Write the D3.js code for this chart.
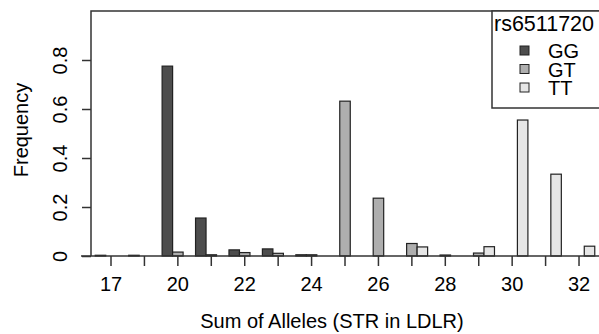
<!DOCTYPE html>
<html>
<head>
<meta charset="utf-8">
<script src="https://cdn.jsdelivr.net/npm/d3@7"></script>
<style>
  body { margin: 0; background: #fff; }
  svg { display: block; font-family: "Liberation Sans", Arial, sans-serif; }
</style>
</head>
<body>
<svg width="599" height="334"></svg>
<script>
// categories (sum of alleles) and genotype series
var categories = ["17", "19", "20", "21", "22", "23", "24", "25", "26", "27", "28", "29", "30", "31", "32"];
var shownLabels = ["17", "20", "22", "24", "26", "28", "30", "32"];
var genotypes = ["GG", "GT", "TT"];
var colors = ["#4D4D4D", "#AEAEAE", "#E6E6E6"];

// frequency per genotype, one value per category
var GG = [0.003, 0.003, 0.775, 0.155, 0.025, 0.029, 0.005, 0, 0, 0, 0, 0, 0, 0, 0];
var GT = [0, 0, 0.016, 0.005, 0.014, 0.011, 0.005, 0.632, 0.236, 0.051, 0.004, 0.012, 0, 0, 0];
var TT = [0, 0, 0, 0, 0, 0, 0, 0, 0, 0.037, 0, 0.038, 0.555, 0.334, 0.04];
var yTicks = [0, 0.2, 0.4, 0.6, 0.8];

var series = [GG, GT, TT];

var svg = d3.select("svg");

var plotLeft = 91, plotTop = 11, plotBottom = 256;

// group scale: step ~33.4px, centers starting at x=111
var step = 33.43;
var x0 = d3.scaleBand()
    .domain(categories)
    .range([111 - step / 2, 111 - step / 2 + step * categories.length])
    .paddingInner(0.058)
    .paddingOuter(0.029);

var x1 = d3.scaleBand()
    .domain(genotypes)
    .range([0, x0.bandwidth()]);

var y = d3.scaleLinear()
    .domain([0, 1])
    .range([plotBottom, plotTop]);

// bars
var rows = [];
categories.forEach(function(c, i) {
    genotypes.forEach(function(g, j) {
        rows.push({ cat: c, geno: g, value: series[j][i], color: colors[j] });
    });
});

svg.append("g")
    .selectAll("rect")
    .data(rows)
    .enter()
    .append("rect")
    .attr("x", function(d) { return x0(d.cat) + x1(d.geno); })
    .attr("y", function(d) { return y(d.value); })
    .attr("width", x1.bandwidth())
    .attr("height", function(d) { return y(0) - y(d.value); })
    .attr("fill", function(d) { return d.color; })
    .attr("stroke", "#222")
    .attr("stroke-width", 1.2);

// frame
svg.append("path")
    .attr("d", "M" + plotLeft + "," + plotBottom + "V" + plotTop + "H" + 605)
    .attr("fill", "none")
    .attr("stroke", "#333")
    .attr("stroke-width", 1.5);

svg.append("line")
    .attr("x1", 81).attr("x2", 605)
    .attr("y1", plotBottom).attr("y2", plotBottom)
    .attr("stroke", "#333")
    .attr("stroke-width", 1.5);

// x axis
var xAxis = svg.append("g")
    .attr("transform", "translate(0," + plotBottom + ")")
    .call(d3.axisBottom(x0)
        .tickSize(10)
        .tickFormat(function(d) { return shownLabels.indexOf(d) >= 0 ? d : ""; }));
xAxis.select(".domain").remove();
xAxis.selectAll("line").attr("stroke", "#333").attr("stroke-width", 1.5);
xAxis.selectAll("text")
    .attr("y", 35)
    .attr("dy", null)
    .style("font-size", "20px")
    .attr("fill", "#000");

// y axis
var yAxis = svg.append("g")
    .attr("transform", "translate(" + plotLeft + ",0)")
    .call(d3.axisLeft(y).tickValues(yTicks).tickSize(9).tickFormat(function(d) { return d === 0 ? "0" : d3.format(".1f")(d); }));
yAxis.select(".domain").remove();
yAxis.selectAll("line").attr("stroke", "#333").attr("stroke-width", 1.5);
yAxis.selectAll("text")
    .attr("x", null).attr("dy", null)
    .attr("text-anchor", "middle")
    .attr("transform", "translate(-24,0) rotate(-90)")
    .style("font-size", "20px")
    .attr("fill", "#000");

// axis titles
svg.append("text")
    .attr("transform", "translate(28,130) rotate(-90)")
    .attr("text-anchor", "middle")
    .style("font-size", "20px")
    .text("Frequency");

svg.append("text")
    .attr("x", 332)
    .attr("y", 328)
    .attr("text-anchor", "middle")
    .style("font-size", "20px")
    .text("Sum of Alleles (STR in LDLR)");

// legend
var legend = svg.append("g");
legend.append("rect")
    .attr("x", 492).attr("y", plotTop)
    .attr("width", 120).attr("height", 97)
    .attr("fill", "#fff")
    .attr("stroke", "#333")
    .attr("stroke-width", 1.5);

legend.append("text")
    .attr("x", 494).attr("y", 31)
    .style("font-size", "21.5px")
    .text("rs6511720");

legend.selectAll("rect.key")
    .data(genotypes)
    .enter()
    .append("rect")
    .attr("class", "key")
    .attr("x", 520)
    .attr("y", function(d, i) { return 46 + i * 18.5; })
    .attr("width", 9).attr("height", 9)
    .attr("fill", function(d, i) { return colors[i]; })
    .attr("stroke", "#222");

legend.selectAll("text.key")
    .data(genotypes)
    .enter()
    .append("text")
    .attr("class", "key")
    .attr("x", 548)
    .attr("y", function(d, i) { return 58 + i * 18.5; })
    .style("font-size", "20px")
    .text(function(d) { return d; });
</script>
</body>
</html>
